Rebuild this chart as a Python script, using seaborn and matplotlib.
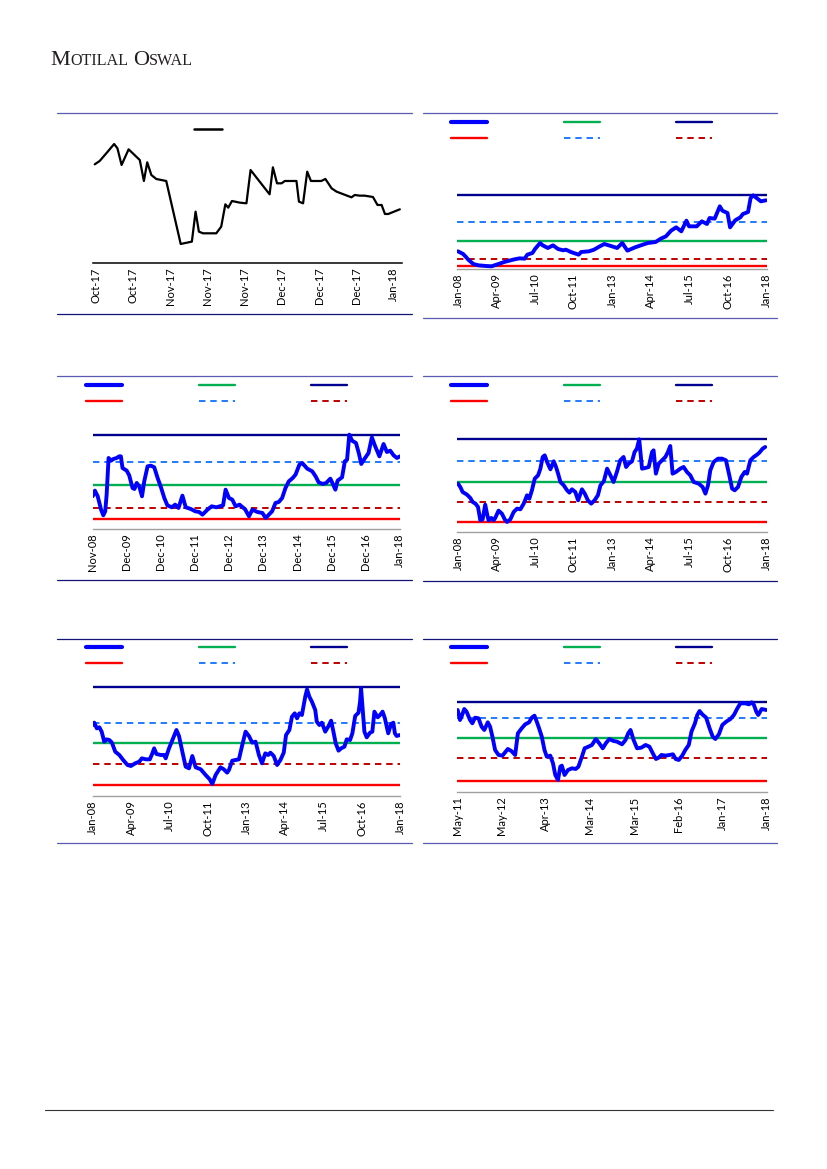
import numpy as np
import pandas as pd
import matplotlib
matplotlib.use("Agg")
import matplotlib.pyplot as plt
import seaborn as sns
from matplotlib.lines import Line2D

# ---------------- DATA ----------------
# Panel 1: daily price (trading-day index), Oct-17 .. Jan-18
p1_day = [0.0, 1.2, 2.8, 4.7, 5.5, 6.5, 8.2, 10.9, 11.3, 11.9, 12.7, 13.7, 14.9, 17.3, 20.8, 23.5,
          24.4, 25.2, 26.2, 29.4, 30.6, 31.6, 32.3, 33.2, 35.1, 36.7, 37.7, 42.3, 43.1, 44.1, 45.2,
          46.0, 48.8, 49.4, 50.4, 51.4, 52.3, 54.8, 55.8, 57.3, 58.5, 62.1, 62.9, 64.1, 65.3, 67.3,
          68.4, 69.4, 70.2, 71.0, 73.8]
p1_val = [29.7, 30.7, 33.0, 35.8, 34.5, 29.5, 34.2, 31.0, 28.5, 24.7, 30.3, 26.5, 25.3, 24.7, 5.8, 6.5,
          15.5, 9.5, 9.0, 9.0, 11.0, 17.7, 16.7, 18.7, 18.2, 18.0, 28.0, 20.7, 28.8, 24.0, 24.0,
          24.7, 24.7, 18.5, 18.0, 27.5, 24.7, 24.7, 25.3, 22.5, 21.5, 19.8, 20.5, 20.3, 20.3, 19.9,
          17.5, 17.5, 14.8, 14.8, 16.2]
p1_tick_pos = [0.3, 9.3, 18.3, 27.3, 36.3, 45.3, 54.3, 63.3, 72.3]
p1_tick_lab = ["Oct-17", "Oct-17", "Nov-17", "Nov-17", "Nov-17", "Dec-17", "Dec-17", "Dec-17", "Jan-18"]

# Panel 2: months since Jan-08
p2_m = [0, 2, 3, 4, 6, 8, 11, 13, 15, 18, 22, 24, 26, 27, 29, 30, 32, 33, 35, 37, 39, 41, 42, 44, 47,
        48, 51, 53, 55, 57, 60, 62, 64, 66, 69, 72, 74, 77, 79, 81, 83, 85, 87, 89, 90, 93, 95, 97,
        98, 100, 102, 103, 105, 106, 108, 110, 111, 113, 114, 115, 116, 118, 120]
p2_v = [5.3, 4.5, 3.7, 2.8, 1.5, 1.1, 0.9, 0.8, 1.3, 2.1, 2.9, 3.2, 3.1, 4.3, 4.8, 6.0, 7.8, 7.1, 6.3,
        7.1, 6.0, 5.6, 5.8, 5.1, 4.3, 5.1, 5.3, 5.8, 6.7, 7.5, 6.8, 6.3, 7.8, 5.5, 6.5, 7.3, 7.8,
        8.1, 9.1, 9.8, 11.5, 12.5, 11.3, 14.5, 12.8, 12.8, 14.3, 13.5, 15.3, 15.1, 18.8, 17.5, 16.8,
        12.5, 14.6, 15.5, 16.5, 17.1, 21.3, 22.1, 21.5, 20.3, 20.6]
p2_stats = [22.1, 14.1, 8.5, 3.0, 0.8]  # max, +1SD, avg, -1SD, min
p2_ticks = [0, 15, 30, 45, 60, 75, 90, 105, 120]
p2_lab = ["Jan-08", "Apr-09", "Jul-10", "Oct-11", "Jan-13", "Apr-14", "Jul-15", "Oct-16", "Jan-18"]

# Panel 3: months since Nov-08
p3_m = [0.0, 0.8, 1.8, 3.0, 3.8, 4.5, 5.0, 5.7, 6.6, 7.4, 8.6, 9.5, 10.1, 10.7, 12.2, 13.1, 14.3,
        15.0, 15.8, 16.7, 17.7, 18.5, 19.7, 20.9, 22.1, 23.3, 24.5, 25.7, 26.8, 28.4, 29.6, 30.8,
        32.2, 33.4, 35.2, 36.8, 38.2, 39.4, 41.2, 42.7, 44.4, 46.8, 47.7, 48.9, 50.1, 51.3, 52.7,
        54.7, 56.1, 57.3, 59.1, 60.9, 62.1, 63.0, 64.4, 65.6, 66.8, 68.0, 69.2, 70.4, 71.8, 72.8,
        74.2, 75.2, 77.0, 78.8, 80.0, 81.1, 82.6, 83.8, 85.3, 86.2, 87.1, 87.9, 89.5, 90.5, 91.3,
        92.1, 93.1, 94.5, 95.5, 96.4, 97.6, 99.0, 100.2, 101.4, 102.9, 104.4, 105.6, 106.8, 108.0,
        109.2, 110.3]
p3_v = [9.9, 11.6, 9.9, 5.9, 4.2, 5.4, 10.4, 21.4, 20.6, 21.1, 21.4, 21.9, 21.9, 18.4, 17.6, 16.2,
        12.4, 12.1, 13.9, 12.9, 9.9, 14.4, 18.9, 19.1, 18.6, 15.4, 12.6, 9.4, 7.2, 6.6, 7.4, 6.4,
        10.1, 6.6, 6.1, 5.4, 5.2, 4.4, 5.9, 6.9, 6.6, 7.2, 11.9, 9.4, 8.9, 6.9, 7.4, 6.0, 3.9, 5.9,
        5.2, 4.9, 3.4, 4.2, 5.4, 7.9, 8.2, 9.4, 12.4, 14.4, 15.4, 16.4, 19.4, 19.9, 18.2, 17.4,
        15.9, 14.1, 13.6, 13.9, 15.2, 13.6, 11.9, 14.6, 15.6, 20.4, 20.9, 28.4, 26.6, 25.9, 22.9,
        19.6, 21.2, 22.9, 27.6, 24.9, 21.9, 25.6, 23.2, 23.6, 22.2, 21.4, 21.9]
p3_stats = [28.2, 20.3, 13.4, 6.5, 3.2]
p3_ticks = list(np.linspace(0, 110, 10))
p3_lab = ["Nov-08", "Dec-09", "Dec-10", "Dec-11", "Dec-12", "Dec-13", "Dec-14", "Dec-15", "Dec-16", "Jan-18"]

# Panel 4: months since Jan-08
p4_m = [0.0, 0.9, 1.8, 3.5, 4.8, 5.7, 6.8, 7.8, 8.7, 9.6, 10.6, 11.3, 11.9, 13.0, 13.9, 14.5, 15.8,
        17.1, 18.2, 19.1, 20.4, 21.7, 23.0, 24.3, 25.6, 26.9, 27.8, 28.8, 29.9, 31.2, 32.1, 33.0,
        33.8, 34.7, 36.0, 37.3, 38.2, 39.0, 39.9, 41.2, 42.5, 43.4, 44.4, 45.7, 46.8, 48.3, 49.4,
        50.6, 51.9, 53.2, 54.5, 55.5, 56.8, 58.1, 59.4, 60.6, 61.9, 63.2, 64.5, 65.5, 66.5, 67.8,
        68.8, 69.7, 70.6, 71.7, 73.0, 74.3, 75.6, 76.2, 77.1, 78.2, 79.5, 80.8, 81.8, 82.7, 83.6,
        84.9, 86.6, 87.9, 89.2, 90.5, 91.8, 93.8, 95.3, 96.4, 97.4, 98.3, 99.6, 101.3, 102.9, 104.4,
        105.7, 106.8, 107.8, 109.1, 110.4, 111.7, 112.6, 113.9, 115.2, 116.5, 117.4, 118.7, 119.7]
p4_v = [14.6, 13.6, 12.1, 11.3, 10.3, 9.1, 8.6, 7.6, 3.6, 3.9, 8.3, 5.6, 3.6, 4.3, 3.6, 4.3, 6.5,
        5.6, 3.9, 3.1, 3.9, 6.1, 7.1, 6.9, 8.6, 11.1, 10.1, 12.6, 16.1, 17.1, 19.1, 22.6, 23.1, 21.1,
        18.9, 21.3, 19.6, 17.6, 15.1, 14.1, 12.6, 11.9, 12.9, 12.1, 9.6, 12.9, 11.6, 9.6, 8.6, 9.6,
        11.1, 14.1, 15.3, 19.1, 17.1, 15.1, 18.1, 21.6, 22.6, 19.6, 20.6, 21.3, 24.1, 25.1, 27.9,
        19.1, 19.3, 19.6, 24.1, 24.6, 17.6, 20.6, 21.6, 22.6, 24.1, 25.9, 17.6, 18.1, 19.1, 19.6,
        18.1, 17.1, 15.1, 14.6, 13.6, 11.6, 14.1, 18.6, 21.1, 22.1, 22.1, 21.6, 17.1, 13.1, 12.6,
        13.6, 16.6, 18.1, 17.6, 21.6, 22.6, 23.3, 23.9, 25.1, 25.6]
p4_stats = [27.9, 21.4, 15.2, 9.2, 3.0]
p4_ticks = [0, 15, 30, 45, 60, 75, 90, 105, 120]
p4_lab = ["Jan-08", "Apr-09", "Jul-10", "Oct-11", "Jan-13", "Apr-14", "Jul-15", "Oct-16", "Jan-18"]

# Panel 5: months since Jan-08
p5_m = [0.0, 0.6, 1.6, 2.6, 3.5, 4.5, 5.4, 6.5, 7.5, 8.8, 10.4, 11.9, 13.6, 14.9, 16.6, 18.2, 19.2,
        20.8, 22.3, 23.3, 24.0, 24.9, 26.6, 27.9, 28.5, 29.8, 31.4, 32.7, 33.7, 35.0, 36.3, 37.6,
        38.9, 40.2, 42.2, 44.1, 45.7, 46.7, 48.0, 49.9, 51.2, 52.5, 53.2, 54.5, 55.8, 57.1, 58.4,
        59.7, 61.0, 62.3, 63.6, 64.9, 66.1, 67.4, 68.5, 69.4, 70.7, 72.0, 73.3, 74.6, 75.5, 76.8,
        77.8, 78.9, 79.8, 80.7, 81.7, 83.0, 83.7, 84.6, 85.6, 86.9, 87.5, 88.5, 89.5, 90.8, 92.1,
        93.1, 94.0, 94.9, 96.0, 97.0, 98.3, 99.2, 100.5, 101.4, 102.5, 103.8, 104.4, 104.8, 105.3,
        106.1, 107.0, 108.3, 109.2, 110.0, 111.3, 112.2, 113.2, 114.1, 115.4, 116.5, 117.4, 118.0,
        118.7, 120.0]
p5_v = [21.3, 22.0, 20.3, 20.6, 19.3, 16.3, 17.0, 16.8, 16.0, 13.3, 12.3, 10.8, 9.3, 9.0, 9.8, 10.3,
        11.3, 11.0, 11.0, 12.8, 14.3, 12.6, 12.3, 12.3, 11.3, 14.3, 17.3, 19.8, 18.0, 13.3, 8.8, 8.3,
        12.0, 8.6, 8.0, 6.3, 5.0, 3.6, 6.3, 8.6, 8.0, 7.0, 7.8, 10.6, 10.8, 11.0, 15.3, 19.3, 18.0,
        16.0, 16.3, 12.3, 9.8, 12.8, 12.3, 13.0, 12.0, 9.3, 10.8, 13.0, 18.3, 19.8, 23.8, 24.8, 23.3,
        24.8, 24.3, 29.8, 32.0, 29.8, 28.3, 25.8, 22.3, 21.3, 22.0, 19.3, 21.0, 22.6, 19.3, 15.8,
        13.6, 14.3, 14.8, 17.0, 16.8, 18.8, 24.0, 25.0, 28.3, 32.3, 27.3, 19.3, 17.6, 19.0, 19.3,
        25.3, 23.6, 24.3, 25.3, 23.3, 18.8, 21.6, 22.0, 18.8, 18.0, 18.3]
p5_stats = [32.6, 22.0, 15.8, 9.5, 3.4]
p5_ticks = [0, 15, 30, 45, 60, 75, 90, 105, 120]
p5_lab = ["Jan-08", "Apr-09", "Jul-10", "Oct-11", "Jan-13", "Apr-14", "Jul-15", "Oct-16", "Jan-18"]

# Panel 6: months since May-11
p6_m = [0.0, 0.6, 1.0, 1.7, 2.3, 3.2, 3.8, 4.5, 5.4, 6.2, 6.9, 7.8, 8.4, 9.0, 9.7, 10.6, 11.6, 12.3,
        13.0, 13.9, 14.9, 15.6, 16.6, 17.5, 18.5, 19.2, 19.9, 20.5, 21.1, 21.8, 22.5, 23.1, 24.0,
        24.7, 25.3, 26.0, 26.6, 27.0, 27.7, 28.6, 29.6, 30.6, 31.3, 32.2, 32.9, 33.9, 34.8, 35.8,
        36.7, 37.6, 38.4, 39.3, 40.4, 41.3, 42.6, 43.5, 44.2, 44.8, 45.6, 46.5, 47.6, 48.7, 49.7,
        50.8, 51.4, 52.1, 52.8, 53.9, 54.9, 55.8, 56.5, 57.3, 58.2, 59.0, 59.9, 60.6, 61.5, 62.1,
        62.7, 63.4, 64.4, 65.3, 66.1, 66.8, 67.7, 68.6, 69.6, 70.7, 71.6, 72.5, 73.3, 74.5, 75.5,
        76.2, 76.8, 77.4, 77.9, 78.8, 80.0]
p6_v = [24.7, 21.7, 22.7, 25.0, 24.2, 21.7, 20.7, 22.4, 22.2, 19.7, 18.7, 21.0, 19.7, 16.7, 12.7,
        11.2, 11.0, 12.0, 13.0, 12.4, 11.2, 17.7, 19.2, 20.4, 21.0, 22.4, 23.0, 21.2, 19.2, 16.7,
        12.7, 10.7, 11.0, 8.7, 5.2, 3.7, 7.7, 8.0, 5.2, 6.7, 7.2, 7.0, 7.7, 10.7, 13.2, 13.7, 14.2,
        16.0, 14.7, 13.2, 14.7, 16.0, 15.4, 15.2, 14.4, 15.7, 17.7, 18.7, 15.7, 13.2, 13.4, 14.2,
        13.7, 11.2, 10.0, 10.4, 11.2, 11.0, 11.2, 11.4, 10.0, 9.7, 11.0, 12.7, 14.2, 18.2, 20.7,
        23.2, 24.4, 23.4, 22.4, 19.2, 16.7, 16.0, 17.4, 20.2, 21.2, 22.0, 23.2, 25.2, 26.7, 26.7,
        26.4, 27.0, 26.2, 24.2, 23.2, 25.0, 24.7]
p6_stats = [27.2, 22.4, 16.4, 10.4, 3.5]
p6_ticks = list(np.linspace(0, 80, 8))
p6_lab = ["May-11", "May-12", "Apr-13", "Mar-14", "Mar-15", "Feb-16", "Jan-17", "Jan-18"]

# ---------------- STYLE ----------------
sns.set_theme(style="white")
plt.rcParams["font.family"] = ["Lato", "DejaVu Sans"]

W, H = 827, 1169
fig = plt.figure(figsize=(8.27, 11.69), dpi=100)
fig.patch.set_facecolor("white")

C_SER = "#0000FF"
C_MAX = "#000090"
C_P1 = "#1F7BFF"
C_AVG = "#00B050"
C_M1 = "#C00000"
C_MIN = "#FF0000"
LIGHT = "#5A5AB4"
DARK = "#141478"


def px_axes(x0, x1, ybot, ytop):
    return fig.add_axes([x0 / W, 1 - ybot / H, (x1 - x0) / W, (ybot - ytop) / H])


def hline(x0, x1, y, color, lw=0.9):
    fig.add_artist(Line2D([x0 / W, x1 / W], [1 - y / H, 1 - y / H],
                          transform=fig.transFigure, color=color, lw=lw))


def style_axis(ax, ticks, labels, spine_color="#A0A0A0", spine_lw=1.0):
    for s in ["top", "left", "right"]:
        ax.spines[s].set_visible(False)
    ax.spines["bottom"].set_color(spine_color)
    ax.spines["bottom"].set_linewidth(spine_lw)
    ax.set_yticks([])
    ax.set_xticks(ticks)
    ax.set_xticklabels(labels, rotation=90, fontsize=8, color="black")
    ax.tick_params(axis="x", length=0, pad=3)
    ax.set_xlabel("")
    ax.set_ylabel("")
    ax.set_facecolor("none")


def band_panel(box, m, v, stats, ticks, labels, xlim, ylim, leg_x, leg_y):
    ax = px_axes(*box)
    df = pd.DataFrame({"m": m, "v": v})
    mx, p1, avg, m1, mn = stats
    ax.axhline(mn, color=C_MIN, lw=1.7)
    ax.axhline(m1, color=C_M1, lw=1.4, dashes=(3.3, 2.5))
    ax.axhline(avg, color=C_AVG, lw=1.7)
    ax.axhline(p1, color=C_P1, lw=1.4, dashes=(3.3, 2.5))
    ax.axhline(mx, color=C_MAX, lw=1.7)
    sns.lineplot(data=df, x="m", y="v", ax=ax, color=C_SER, lw=2.8,
                 estimator=None, sort=False)
    ax.set_xlim(*xlim)
    ax.set_ylim(*ylim)
    style_axis(ax, ticks, labels)
    handles = [
        Line2D([], [], color=C_SER, lw=3.0),
        Line2D([], [], color=C_MIN, lw=1.7),
        Line2D([], [], color=C_AVG, lw=1.7),
        Line2D([], [], color=C_P1, lw=1.4, dashes=(3.3, 2.5)),
        Line2D([], [], color=C_MAX, lw=1.7),
        Line2D([], [], color=C_M1, lw=1.4, dashes=(3.3, 2.5)),
    ]
    fs = 8
    pxem = fs * 100 / 72.0
    ax.legend(handles, [""] * 6, ncol=3, frameon=False, fontsize=fs,
              loc="upper left", bbox_to_anchor=(leg_x / W, 1 - (leg_y + 1 - pxem * 0.5) / H),
              bbox_transform=fig.transFigure, borderpad=0, borderaxespad=0,
              handlelength=36 / pxem, handleheight=1.0, handletextpad=0,
              columnspacing=76.5 / pxem, labelspacing=(16 - pxem) / pxem)
    return ax


# ---------------- LOGO ----------------
renderer = fig.canvas.get_renderer()
xpos = 50.0
for txt, sz in [("M", 16.0), ("OTILAL", 11.6), (" ", 11.6), ("O", 16.0), ("SWAL", 11.6)]:
    t = fig.text(xpos / W, 1 - 65 / H, txt, fontsize=sz, family="Liberation Serif",
                 color="#231F20", ha="left", va="baseline")
    bb = t.get_window_extent(renderer=renderer)
    xpos += bb.width + (0.5 if txt.strip() else 0)

# ---------------- PANEL 1 ----------------
ax1 = px_axes(93.3, 402.3, 263.3, 140)
sns.lineplot(x=p1_day, y=p1_val, ax=ax1, color="black", lw=1.6, estimator=None, sort=False)
ax1.set_xlim(-0.34, 74.4)
ax1.set_ylim(0, 37)
style_axis(ax1, p1_tick_pos, p1_tick_lab, spine_color="black", spine_lw=1.1)
pxem = 8 * 100 / 72.0
ax1.legend([Line2D([], [], color="black", lw=1.8)], [""], frameon=False, fontsize=8,
           loc="upper left", bbox_to_anchor=(194.3 / W, 1 - (129.8 - pxem * 0.5) / H),
           bbox_transform=fig.transFigure, borderpad=0, borderaxespad=0,
           handlelength=27.7 / pxem, handleheight=1.0, handletextpad=0)

# ---------------- PANELS 2-6 ----------------
band_panel((457.3, 766.7, 269.0, 185), p2_m, p2_v, p2_stats, p2_ticks, p2_lab,
           (-0.27, 120.27), (0, 25.2), 451, 122)
band_panel((92.7, 400.0, 529.3, 425), p3_m, p3_v, p3_stats, p3_ticks, p3_lab,
           (0, 110.3), (0, 31.3), 86, 384.7)
band_panel((457.3, 766.7, 532.3, 429), p4_m, p4_v, p4_stats, p4_ticks, p4_lab,
           (-0.27, 120.27), (0, 31.0), 451, 385)
band_panel((92.7, 400.0, 796.0, 677), p5_m, p5_v, p5_stats, p5_ticks, p5_lab,
           (0, 120), (0, 35.7), 86, 646.7)
band_panel((457.3, 766.7, 792.3, 691), p6_m, p6_v, p6_stats, p6_ticks, p6_lab,
           (-0.1, 80.1), (0, 30.4), 451, 647.3)

# ---------------- FRAME LINES ----------------
hline(57, 412, 113, LIGHT)
hline(57, 412, 314, DARK)
hline(423, 777, 113.3, LIGHT)
hline(423, 777, 317.7, LIGHT)
hline(57, 412, 376, LIGHT)
hline(57, 412, 580, DARK)
hline(423, 777, 376, LIGHT)
hline(423, 777, 580.7, DARK)
hline(57, 412, 639.3, DARK)
hline(57, 412, 842.7, LIGHT)
hline(423, 777, 639.3, DARK)
hline(423, 777, 843.3, LIGHT)
hline(45, 773, 1110, "#333333", lw=0.8)

fig.savefig("out.png", dpi=100)
